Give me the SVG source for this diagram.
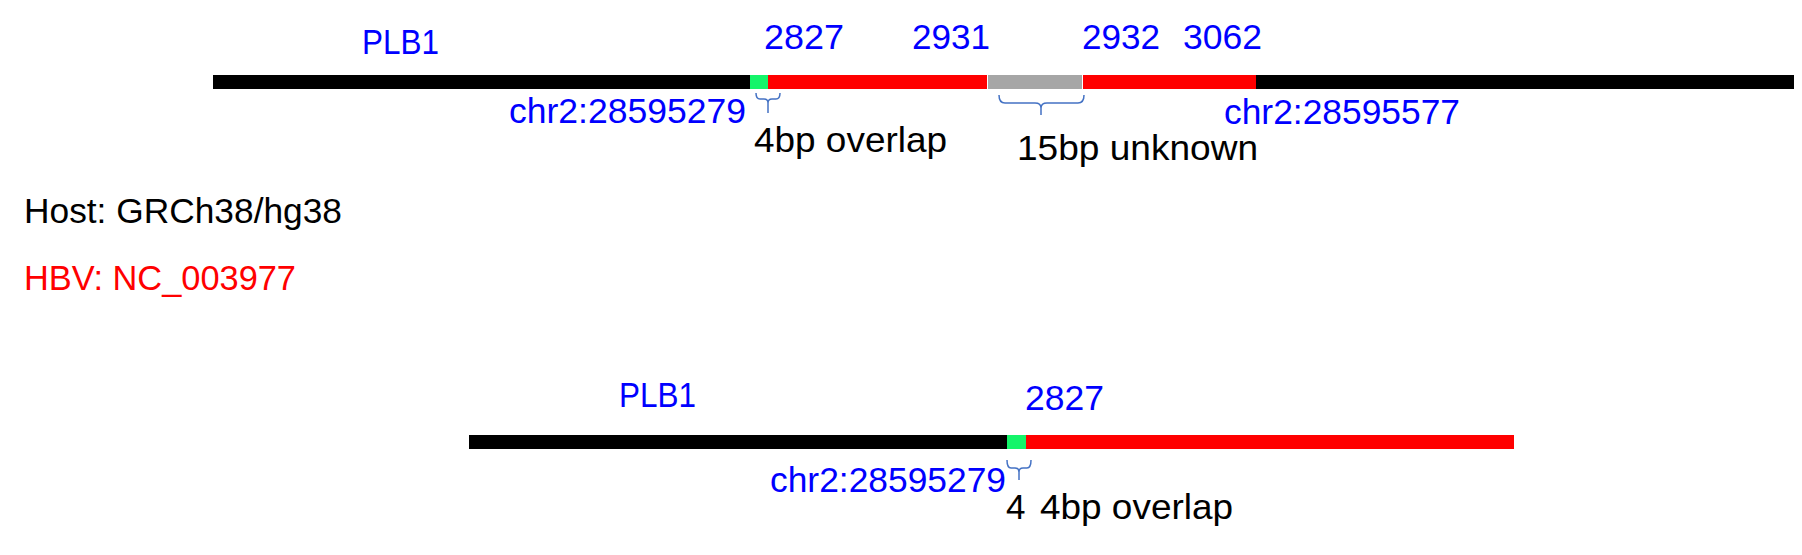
<svg xmlns="http://www.w3.org/2000/svg" width="1802" height="555" viewBox="0 0 1802 555">
<style>
text{font-family:"Liberation Sans","Noto Sans",Arial,sans-serif;font-size:35px}
.b{fill:#0000FF}
.k{fill:#000000}
.r{fill:#FF0000}
.seg-black{fill:#000000}
.seg-green{fill:#14F56A}
.seg-red{fill:#FF0000}
.seg-gray{fill:#A6A6A6}
.brace{fill:none;stroke:#4472C4;stroke-width:1.5}
</style>
<rect width="1802" height="555" fill="#FFFFFF"/>
<g id="top-track">
<rect class="seg-black" x="213" y="75" width="537" height="14"/>
<rect class="seg-green" x="750" y="75" width="18" height="14"/>
<rect class="seg-red" x="768" y="75" width="219" height="14"/>
<rect class="seg-gray" x="988" y="75" width="94" height="14"/>
<rect class="seg-red" x="1083" y="75" width="173" height="14"/>
<rect class="seg-black" x="1256" y="75" width="538" height="14"/>
</g>
<g id="bottom-track">
<rect class="seg-black" x="469" y="435" width="538" height="14"/>
<rect class="seg-green" x="1007" y="435" width="19" height="14"/>
<rect class="seg-red" x="1026" y="435" width="488" height="14"/>
</g>
<g id="connectors">
<path class="brace" d="M756,93 Q756,99 760,99 L764,99 Q768,99 768,103 L768,113 M768,103 Q768,99 772,99 L776,99 Q780,99 780,93"/>
<path class="brace" d="M999,95 Q999,103 1005,103 L1035,103 Q1041,103 1041,108 L1041,115 M1041,108 Q1041,103 1047,103 L1078,103 Q1084,103 1084,95"/>
<path class="brace" d="M1007,460 Q1007,468 1011,468 L1015,468 Q1019,468 1019,472 L1019,480 M1019,472 Q1019,468 1023,468 L1027,468 Q1031,468 1031,460"/>
</g>
<g id="top-labels">
<text class="b" x="362" y="54" textLength="77" lengthAdjust="spacingAndGlyphs">PLB1</text>
<text class="b" x="764" y="49" textLength="80" lengthAdjust="spacingAndGlyphs">2827</text>
<text class="b" x="912" y="49" textLength="78" lengthAdjust="spacingAndGlyphs">2931</text>
<text class="b" x="1082" y="49" textLength="78" lengthAdjust="spacingAndGlyphs">2932</text>
<text class="b" x="1183" y="49" textLength="79" lengthAdjust="spacingAndGlyphs">3062</text>
<text class="b" x="509" y="123" textLength="237" lengthAdjust="spacingAndGlyphs">chr2:28595279</text>
<text class="b" x="1224" y="124" textLength="236" lengthAdjust="spacingAndGlyphs">chr2:28595577</text>
<text class="k" x="754" y="152" textLength="193" lengthAdjust="spacingAndGlyphs">4bp overlap</text>
<text class="k" x="1017" y="160" textLength="241" lengthAdjust="spacingAndGlyphs">15bp unknown</text>
</g>
<g id="legend">
<text class="k" x="24" y="223" textLength="318" lengthAdjust="spacingAndGlyphs">Host: GRCh38/hg38</text>
<text class="r" x="24" y="290" textLength="272" lengthAdjust="spacingAndGlyphs">HBV: NC_003977</text>
</g>
<g id="bottom-labels">
<text class="b" x="619" y="407" textLength="77" lengthAdjust="spacingAndGlyphs">PLB1</text>
<text class="b" x="1025" y="410" textLength="79" lengthAdjust="spacingAndGlyphs">2827</text>
<text class="b" x="770" y="492" textLength="236" lengthAdjust="spacingAndGlyphs">chr2:28595279</text>
<text class="k" x="1006" y="519">4</text>
<text class="k" x="1040" y="519" textLength="193" lengthAdjust="spacingAndGlyphs">4bp overlap</text>
</g>
</svg>
